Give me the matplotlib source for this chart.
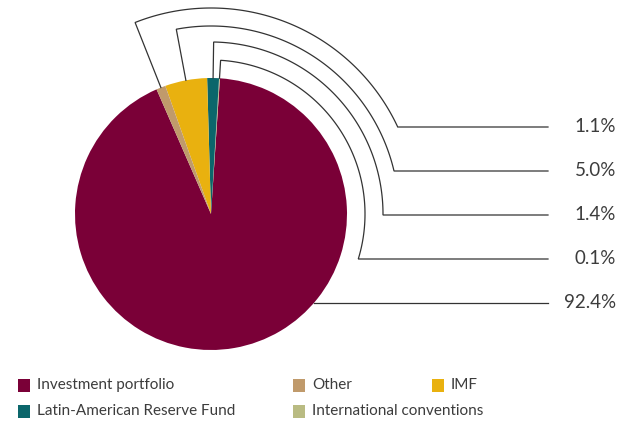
import matplotlib.pyplot as plt
import numpy as np
from matplotlib.patches import Rectangle

plt.rcParams['font.family'] = ['Lato', 'DejaVu Sans']

# slices, counter-clockwise from the left edge of "Other"
categories = ['Investment portfolio', 'International conventions',
              'Latin-American Reserve Fund', 'IMF', 'Other']
shares = [92.4, 0.1, 1.4, 5.0, 1.1]
colors = ['#7a0037', '#b9bb82', '#0b666b', '#e9b10f', '#c09a6b']

# labels on the right, top to bottom
label_order = ['Other', 'IMF', 'Latin-American Reserve Fund',
               'International conventions', 'Investment portfolio']

# legend grid: (column, row)
legend_slots = {
    'Investment portfolio': (0, 0),
    'Other': (1, 0),
    'IMF': (2, 0),
    'Latin-American Reserve Fund': (0, 1),
    'International conventions': (1, 1),
}

W, H = 630, 426
CX, CY, R = 211, 212, 136
LEADER_R = [206, 188, 172, 154]
LABEL_TOP, LABEL_STEP = 299, 44
LINE_END, LABEL_X = 548, 616
LEG_COLS = [18, 293, 432]
LEG_ROWS = [41, 15]
INK = '#333333'

fig = plt.figure(figsize=(W / 100, H / 100), dpi=100)
ax = fig.add_axes([0, 0, 1, 1])

wedges, _ = ax.pie(shares, colors=colors, startangle=113.6, radius=R,
                   center=(CX, CY), wedgeprops=dict(linewidth=0))
by_name = dict(zip(categories, wedges))

for i, name in enumerate(label_order):
    ly = LABEL_TOP - i * LABEL_STEP
    value = shares[categories.index(name)]
    if i < len(LEADER_R):
        # out from the slice middle, round the pie clockwise, then across
        w = by_name[name]
        a = np.deg2rad(((w.theta1 + w.theta2) / 2) % 360)
        r = LEADER_R[i]
        b = np.arcsin((ly - CY) / r)
        t = np.linspace(a, b, 120)
        xs = np.concatenate([[CX + R * np.cos(a)], CX + r * np.cos(t), [LINE_END]])
        ys = np.concatenate([[CY + R * np.sin(a)], CY + r * np.sin(t), [ly]])
    else:
        xs = [CX + np.sqrt(R ** 2 - (ly - CY) ** 2), LINE_END]
        ys = [ly, ly]
    ax.plot(xs, ys, color=INK, lw=0.9, solid_joinstyle='miter')
    ax.text(LABEL_X, ly, f'{value:.1f}%', ha='right', va='center',
            fontsize=13.5, color='#3c3c3c')

for name, (col, row) in legend_slots.items():
    x, y = LEG_COLS[col], LEG_ROWS[row]
    ax.add_patch(Rectangle((x, y - 6.5), 12, 13, color=colors[categories.index(name)],
                           lw=0))
    ax.text(x + 19, y, name, ha='left', va='center', fontsize=11, color='#3c3c3c')

ax.set_xlim(0, W)
ax.set_ylim(0, H)
ax.set_aspect('equal')
ax.axis('off')

fig.savefig('out.png', dpi=100)
